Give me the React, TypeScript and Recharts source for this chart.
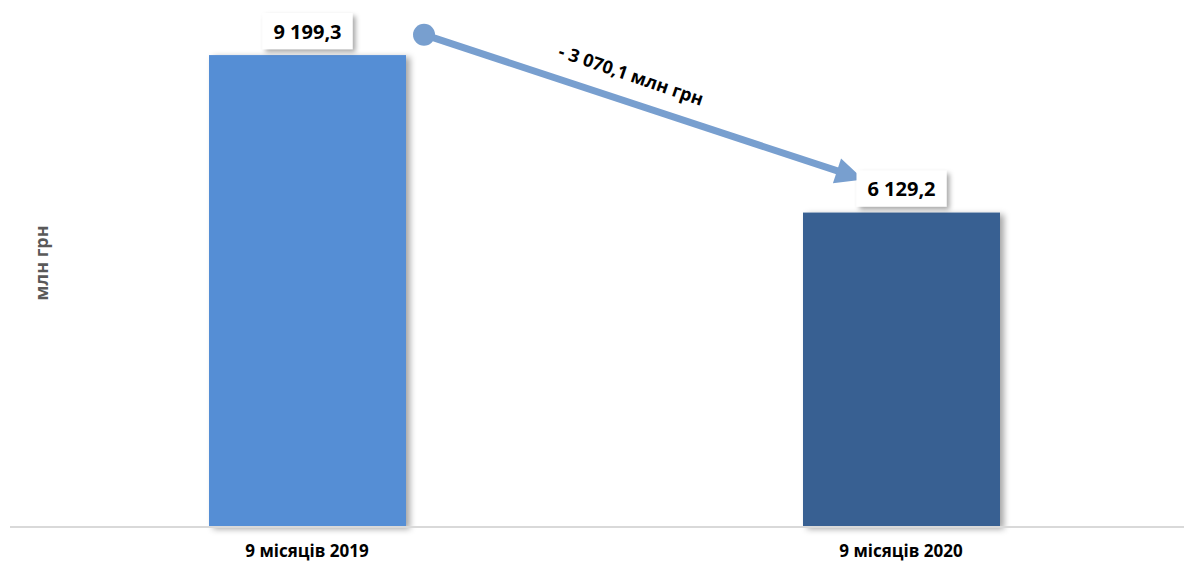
import React from 'react';
import { BarChart, Bar, XAxis, YAxis, Cell, LabelList, ReferenceLine } from 'recharts';

const categories = ['9 місяців 2019', '9 місяців 2020'];
const values = [9199.3, 6129.2];
const valueLabels = ['9 199,3', '6 129,2'];
const barColors = ['#558ED5', '#376092'];
const changeLabel = '- 3 070,1 млн грн';
// arrow guide values at the two category centres (млн грн)
const arrowAnchors = [10349, 6532];

const data = categories.map((name, i) => ({ name, value: values[i], label: valueLabels[i] }));

const FONT = '"Open Sans", Lato, sans-serif';

const ValueBox = (props: any) => {
  const { x, y, width, value } = props;
  const cx = x + width / 2;
  const w = 90;
  const h = 36;
  const top = y - 6 - h;
  return (
    <g>
      <rect x={cx - w / 2} y={top} width={w} height={h} fill="#fff" filter="url(#boxShadow)" />
      <text x={cx} y={top + h / 2} textAnchor="middle" dominantBaseline="central"
        fontFamily={FONT} fontWeight={700} fontSize={20} fill="#000">
        {value}
      </text>
    </g>
  );
};

const ArrowShape = (props: any) => {
  const { x1, y1, x2, y2 } = props;
  if ([x1, y1, x2, y2].some((v) => v === undefined || isNaN(v))) return null;
  const t0 = 0.197;
  const t1 = 0.937;
  const sx = x1 + (x2 - x1) * t0;
  const sy = y1 + (y2 - y1) * t0;
  const ex = x1 + (x2 - x1) * t1;
  const ey = y1 + (y2 - y1) * t1;
  const len = Math.hypot(ex - sx, ey - sy);
  const ux = (ex - sx) / len;
  const uy = (ey - sy) / len;
  const nx = uy;
  const ny = -ux;
  const headLen = 28;
  const headHalf = 13;
  const bx = ex - ux * headLen;
  const by = ey - uy * headLen;
  const angle = (Math.atan2(ey - sy, ex - sx) * 180) / Math.PI;
  const mx = (sx + ex) / 2 - ux * 22 + nx * 27;
  const my = (sy + ey) / 2 - uy * 22 + ny * 27;
  const color = '#789FCF';
  return (
    <g>
      <line x1={sx} y1={sy} x2={bx + ux * 2} y2={by + uy * 2} stroke={color} strokeWidth={7} />
      <circle cx={sx} cy={sy} r={11} fill={color} />
      <polygon
        points={`${ex},${ey} ${bx + nx * headHalf},${by + ny * headHalf} ${bx - nx * headHalf},${by - ny * headHalf}`}
        fill={color}
      />
      <text x={mx} y={my} textAnchor="middle" dominantBaseline="central"
        transform={`rotate(${angle + 0.7} ${mx} ${my})`}
        fontFamily={FONT} fontWeight={700} fontSize={18} fill="#000">
        {changeLabel}
      </text>
    </g>
  );
};

const BarShape = (props: any) => {
  const { x, y, width, height, fill } = props;
  return <rect x={x} y={y} width={width} height={height} fill={fill} filter="url(#barShadow)" />;
};

export default function App() {
  return (
    <div style={{ position: 'absolute', left: 0, top: 0, width: 1184, height: 565, overflow: 'hidden', background: '#fff' }}>
      <BarChart width={1198} height={565} data={data} margin={{ top: 14, right: 0, left: 10, bottom: 8 }}>
        <defs>
          <filter id="barShadow" x="-10%" y="-10%" width="130%" height="130%">
            <feDropShadow dx={4} dy={2} stdDeviation={3} floodColor="#000" floodOpacity={0.35} />
          </filter>
          <filter id="boxShadow" x="-20%" y="-30%" width="150%" height="170%">
            <feDropShadow dx={3} dy={3} stdDeviation={2.5} floodColor="#000" floodOpacity={0.35} />
          </filter>
        </defs>
        <XAxis
          dataKey="name"
          height={30}
          tickLine={false}
          tickMargin={12}
          axisLine={{ stroke: '#D9D9D9', strokeWidth: 2 }}
          tick={{ fill: '#000', fontFamily: FONT, fontWeight: 700, fontSize: 17 }}
        />
        <YAxis hide domain={[0, 10000]} />
        <Bar dataKey="value" barSize={197} isAnimationActive={false} shape={<BarShape />}>
          {data.map((d, i) => (
            <Cell key={d.name} fill={barColors[i]} />
          ))}
          <LabelList dataKey="label" content={<ValueBox />} />
        </Bar>
        <ReferenceLine
          segment={[
            { x: categories[0], y: arrowAnchors[0] },
            { x: categories[1], y: arrowAnchors[1] },
          ]}
          ifOverflow="visible"
          shape={<ArrowShape />}
        />
        <text x={41} y={263} textAnchor="middle" dominantBaseline="central"
          transform="rotate(-90 41 263)" fontFamily={FONT} fontWeight={700} fontSize={18} fill="#595959">
          млн грн
        </text>
      </BarChart>
    </div>
  );
}
